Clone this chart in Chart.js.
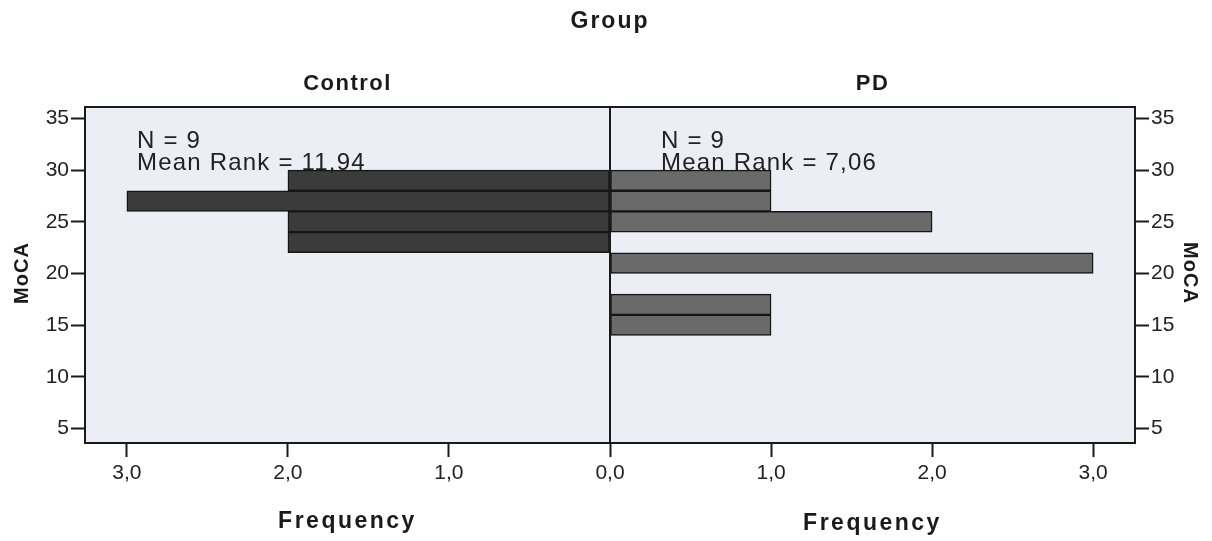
<!DOCTYPE html>
<html>
<head>
<meta charset="utf-8">
<script src="https://cdn.jsdelivr.net/npm/chart.js@4.4.1/dist/chart.umd.min.js"></script>
<style>
  html, body { margin: 0; padding: 0; background: #ffffff; }
  #wrap { width: 1212px; height: 541px; position: relative; }
</style>
</head>
<body>
<div id="wrap"><canvas id="c"></canvas></div>
<script>
// ---- data ----
const mocaBins = [15, 17, 19, 21, 23, 25, 27, 29];          // bin midpoints (width 2)
const controlFreq = [0, 0, 0, 0, 2, 2, 3, 2];
const pdFreq      = [1, 1, 0, 3, 0, 2, 1, 1];
const groupNames = ['Control', 'PD'];
const statsN = ['N = 9', 'N = 9'];
const statsRank = ['Mean Rank = 11,94', 'Mean Rank = 7,06'];
const yTickValues = [5, 10, 15, 20, 25, 30, 35];
const xTickValues = [-3, -2, -1, 0, 1, 2, 3];

const toPoints = (freq, sign) => mocaBins.map((m, i) => ({ y: m, x: freq[i] === 0 ? null : sign * freq[i] }));

const FONT = "'Liberation Sans', Arial, sans-serif";

const decor = {
  id: 'decor',
  beforeDraw(chart) {
    const { ctx, chartArea: a } = chart;
    ctx.save();
    ctx.fillStyle = '#ebeef5';
    ctx.fillRect(a.left, a.top, a.right - a.left, a.bottom - a.top);
    ctx.restore();
  },
  afterDatasetsDraw(chart) {
    const { ctx, chartArea: a, scales } = chart;
    const x = scales.x;
    const x0 = x.getPixelForValue(0);
    ctx.save();
    ctx.strokeStyle = '#1a1a1a';
    ctx.lineWidth = 2;
    ctx.beginPath();
    ctx.moveTo(x0, a.top); ctx.lineTo(x0, a.bottom);
    ctx.stroke();
    ctx.strokeRect(a.left, a.top, a.right - a.left, a.bottom - a.top);

    ctx.fillStyle = '#1a1a1a';
    ctx.textBaseline = 'middle';
    const leftCenter = (a.left + x0) / 2, rightCenter = (x0 + a.right) / 2;
    ctx.textAlign = 'center';
    ctx.font = `bold 23px ${FONT}`;
    ctx.letterSpacing = '2px';
    ctx.fillText('Group', (a.left + a.right) / 2, 22);
    ctx.font = `bold 22px ${FONT}`;
    ctx.letterSpacing = '1.5px';
    ctx.fillText(groupNames[0], leftCenter, 84);
    ctx.fillText(groupNames[1], rightCenter, 84);
    ctx.font = `bold 23px ${FONT}`;
    ctx.letterSpacing = '2.5px';
    ctx.fillText('Frequency', leftCenter, 522);
    ctx.fillText('Frequency', rightCenter, 524);
    ctx.font = `bold 20px ${FONT}`;
    ctx.letterSpacing = '1px';
    ctx.save();
    ctx.translate(22, (a.top + a.bottom) / 2 - 2);
    ctx.rotate(-Math.PI / 2);
    ctx.fillText('MoCA', 0, 0);
    ctx.restore();
    ctx.save();
    ctx.translate(1190, (a.top + a.bottom) / 2 - 2);
    ctx.rotate(Math.PI / 2);
    ctx.fillText('MoCA', 0, 0);
    ctx.restore();
    ctx.letterSpacing = '1.2px';
    ctx.textAlign = 'left';
    ctx.font = `24px ${FONT}`;
    ctx.fillStyle = '#222';
    ctx.fillText(statsN[0], a.left + 52, 141);
    ctx.fillText(statsRank[0], a.left + 52, 163);
    ctx.fillText(statsN[1], x0 + 51, 141);
    ctx.fillText(statsRank[1], x0 + 51, 163);
    ctx.restore();
  }
};

const yAxisCommon = {
  type: 'linear',
  min: 3.6,
  max: 36.1,
  offset: false,
  ticks: {
    stepSize: 5,
    includeBounds: false,
    color: '#222',
    font: { family: FONT, size: 21 },
    padding: 2
  },
  afterBuildTicks: (s) => { s.ticks = yTickValues.map(v => ({ value: v })); },
  grid: { offset: false, drawOnChartArea: false, drawTicks: true, tickLength: 14, tickColor: '#1a1a1a', tickWidth: 2, color: '#1a1a1a' },
  border: { display: true, color: '#1a1a1a', width: 2 }
};

new Chart(document.getElementById('c'), {
  type: 'bar',
  data: {
    datasets: [
      {
        label: groupNames[0],
        data: toPoints(controlFreq, -1),
        backgroundColor: '#3b3b3b',
        borderColor: '#151515',
        borderWidth: 1.5,
        borderSkipped: false,
        grouped: false,
        barPercentage: 1,
        categoryPercentage: 1,
        yAxisID: 'y'
      },
      {
        label: groupNames[1],
        data: toPoints(pdFreq, 1),
        backgroundColor: '#6a6a6a',
        borderColor: '#151515',
        borderWidth: 1.5,
        borderSkipped: false,
        grouped: false,
        barPercentage: 1,
        categoryPercentage: 1,
        yAxisID: 'y'
      }
    ]
  },
  options: {
    indexAxis: 'y',
    responsive: true,
    maintainAspectRatio: false,
    animation: false,
    layout: { padding: { top: 107, left: 0, right: 0, bottom: 0 } },
    plugins: { legend: { display: false }, title: { display: false }, tooltip: { enabled: false } },
    scales: {
      x: {
        type: 'linear',
        position: 'bottom',
        min: -3.26,
        max: 3.26,
        ticks: {
          stepSize: 1,
          includeBounds: false,
          color: '#222',
          font: { family: FONT, size: 21 },
          padding: 4,
          callback: (v) => Math.abs(v).toFixed(1).replace('.', ',')
        },
        afterBuildTicks: (s) => { s.ticks = xTickValues.map(v => ({ value: v })); },
        grid: { drawOnChartArea: false, tickLength: 14, tickColor: '#1a1a1a', tickWidth: 2, color: '#1a1a1a' },
        border: { display: true, color: '#1a1a1a', width: 2 },
        afterFit: (s) => { s.height = 98; }
      },
      y: Object.assign({}, yAxisCommon, { position: 'left', afterFit: (s) => { s.width = 85; } }),
      y2: Object.assign({}, yAxisCommon, { position: 'right', afterFit: (s) => { s.width = 77; } })
    }
  },
  plugins: [decor]
});
</script>
</body>
</html>
